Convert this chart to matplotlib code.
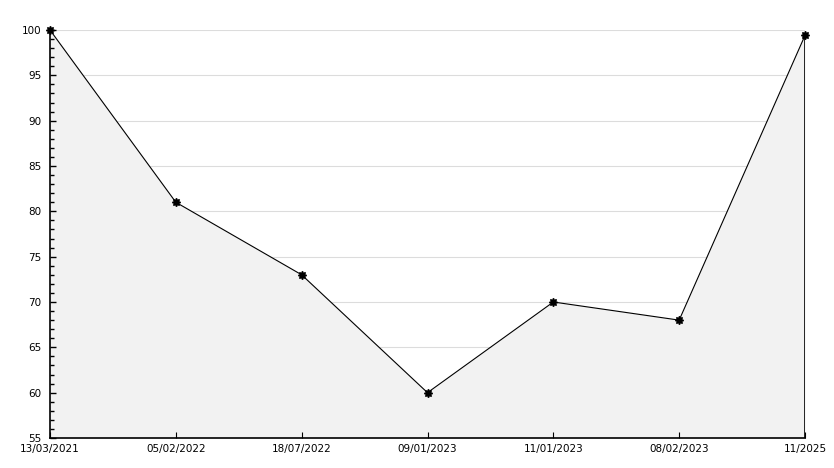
import matplotlib
matplotlib.use("Agg")
import matplotlib.pyplot as plt
from matplotlib.ticker import MultipleLocator

dates = ["13/03/2021", "05/02/2022", "18/07/2022", "09/01/2023",
         "11/01/2023", "08/02/2023", "11/2025"]
values = [100, 81, 73, 60, 70, 68, 99.4]
grid_levels = [60, 65, 70, 75, 80, 85, 90, 95, 100]

fig = plt.figure(figsize=(8.34, 4.68), dpi=100)
ax = fig.add_axes([50 / 834, 30 / 468, 755 / 834, 408 / 468])

x = list(range(len(dates)))
for level in grid_levels:
    ax.axhline(level, color="#dcdcdc", lw=0.8, zorder=0.2)
ax.fill_between(x, values, 55, color="#f2f2f2", lw=0, zorder=1)
ax.plot(x, values, color="black", lw=0.8, zorder=3)
ax.plot(x, values, ls="none", marker=(8, 1, 0), ms=6, color="black",
        zorder=4, clip_on=False)
ax.vlines(x[-1], 55, values[-1], color="black", lw=1.2, zorder=3)

ax.set_xlim(0, len(dates) - 1)
ax.set_ylim(55, 100)
ax.set_xticks(x)
ax.set_xticklabels(dates)
ax.yaxis.set_major_locator(MultipleLocator(5))
ax.yaxis.set_minor_locator(MultipleLocator(1))
ax.set_axisbelow(False)

for side in ("top", "right"):
    ax.spines[side].set_visible(False)
for side in ("left", "bottom"):
    ax.spines[side].set_linewidth(1.2)

ax.tick_params(axis="y", which="major", direction="in", length=4, width=1, labelsize=7.5, pad=6)
ax.tick_params(axis="y", which="minor", direction="in", length=3, width=1)
ax.tick_params(axis="x", which="major", direction="in", length=4, width=0.8, labelsize=7.5, pad=4)

fig.savefig("out.png", dpi=100, facecolor="white")
